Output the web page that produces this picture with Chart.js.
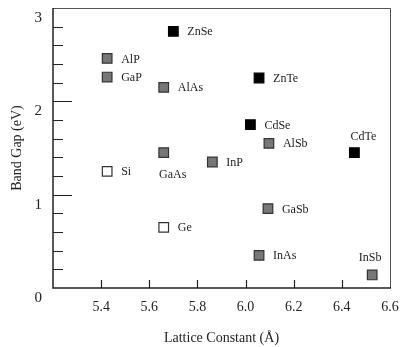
<!DOCTYPE html>
<html>
<head>
<meta charset="utf-8">
<script src="https://cdn.jsdelivr.net/npm/chart.js@4"></script>
<style>
html, body { margin: 0; padding: 0; background: #fff; }
#wrap { width: 401px; height: 347px; }
</style>
</head>
<body>
<div id="wrap"><canvas id="c" width="401" height="347"></canvas></div>
<script>
// semiconductor data
const names = ["ZnSe", "AlP", "GaP", "AlAs", "ZnTe", "CdSe", "AlSb", "CdTe", "GaAs", "InP", "Si", "GaSb", "Ge", "InAs", "InSb"];
const lattice = [5.70, 5.425, 5.425, 5.66, 6.056, 6.02, 6.097, 6.452, 5.66, 5.862, 5.425, 6.093, 5.66, 6.056, 6.526];
const bandGap = [2.75, 2.46, 2.26, 2.15, 2.25, 1.75, 1.55, 1.45, 1.45, 1.35, 1.25, 0.85, 0.65, 0.35, 0.14];
const kind = ["II-VI", "III-V", "III-V", "III-V", "II-VI", "II-VI", "III-V", "II-VI", "III-V", "III-V", "IV", "III-V", "IV", "III-V", "III-V"];
const xTicks = [5.4, 5.6, 5.8, 6.0, 6.2, 6.4, 6.6];
const yTicks = [0, 1, 2, 3];

// label placement (style only): [dx, dy, align]
const labelPlace = {
  GaAs: [9, 22, "center"],
  CdTe: [9, -16, "center"],
  InSb: [-2, -17, "center"]
};

const fills = { "II-VI": "#000000", "III-V": "#777777", "IV": "#ffffff" };
const serif = "'Liberation Serif', 'DejaVu Serif', serif";

const datasets = Object.keys(fills).map(k => ({
  label: k,
  data: names.map((n, i) => ({ x: lattice[i], y: bandGap[i], name: n, k: kind[i] })).filter(p => p.k === k),
  pointStyle: "rect",
  pointRadius: 6.8,
  pointBorderWidth: 1.2,
  backgroundColor: fills[k],
  borderColor: k === "II-VI" ? "#000" : "#333",
  showLine: false
}));

const frame = {
  id: "frame",
  afterDatasetsDraw(chart) {
    const { ctx, chartArea: a, scales: { x, y } } = chart;
    ctx.save();
    // top/right box lines
    ctx.strokeStyle = "#555";
    ctx.lineWidth = 1;
    ctx.beginPath();
    ctx.moveTo(a.left, a.top + 0.5);
    ctx.lineTo(a.right + 0.5, a.top + 0.5);
    ctx.lineTo(a.right + 0.5, a.bottom);
    ctx.stroke();
    // left/bottom axes
    ctx.strokeStyle = "#222";
    ctx.lineWidth = 1.5;
    ctx.beginPath();
    ctx.moveTo(a.left, a.top);
    ctx.lineTo(a.left, a.bottom);
    ctx.lineTo(a.right + 1, a.bottom);
    ctx.stroke();
    // x ticks (inside)
    ctx.lineWidth = 1.2;
    ctx.beginPath();
    xTicks.slice(0, -1).forEach(v => {
      const px = Math.round(x.getPixelForValue(v)) + 0.5;
      ctx.moveTo(px, a.bottom);
      ctx.lineTo(px, a.bottom - 8);
    });
    // y ticks: long at integers, short every 0.2
    for (let j = 1; j < 15; j++) {
      const v = j / 5;
      const py = Math.round(y.getPixelForValue(v)) + 0.5;
      const len = j % 5 === 0 ? 19 : 10;
      ctx.moveTo(a.left, py);
      ctx.lineTo(a.left + len, py);
    }
    ctx.stroke();
    // point labels
    ctx.fillStyle = "#222";
    ctx.font = "12px " + serif;
    ctx.textBaseline = "middle";
    names.forEach((n, i) => {
      const px = x.getPixelForValue(lattice[i]);
      const py = y.getPixelForValue(bandGap[i]);
      const p = labelPlace[n] || [14, 1, "left"];
      ctx.textAlign = p[2];
      ctx.fillText(n, px + p[0], py + p[1]);
    });
    ctx.restore();
  }
};

new Chart(document.getElementById("c"), {
  type: "scatter",
  data: { datasets },
  options: {
    responsive: false,
    animation: false,
    layout: { padding: { top: 5, right: 11, left: 0, bottom: 0 } },
    plugins: { legend: { display: false }, tooltip: { enabled: false } },
    scales: {
      x: {
        type: "linear",
        min: 5.2,
        max: 6.6,
        afterBuildTicks: s => { s.ticks = xTicks.map(v => ({ value: v })); },
        afterFit: s => { s.height = 59; s.paddingLeft = 0; s.paddingRight = 0; },
        grid: { display: false, drawTicks: false },
        border: { display: false },
        ticks: {
          color: "#222",
          padding: 11,
          maxRotation: 0,
          font: { family: serif, size: 14 },
          callback: v => v.toFixed(1)
        },
        title: {
          display: true,
          text: "Lattice Constant (Å)",
          color: "#222",
          font: { family: serif, size: 14 },
          padding: { top: 6, bottom: 0 }
        }
      },
      y: {
        type: "linear",
        min: 0,
        max: 3,
        afterBuildTicks: s => { s.ticks = yTicks.map(v => ({ value: v })); },
        afterFit: s => { s.width = 53; s.paddingTop = 0; s.paddingBottom = 0; },
        grid: { display: false, drawTicks: false },
        border: { display: false },
        ticks: {
          color: "#222",
          padding: 11,
          labelOffset: 10,
          font: { family: serif, size: 15 },
          callback: v => String(v)
        },
        title: {
          display: true,
          text: "Band Gap (eV)",
          color: "#222",
          font: { family: serif, size: 14 },
          padding: { top: 9, bottom: 4 }
        }
      }
    }
  },
  plugins: [frame]
});
</script>
</body>
</html>
